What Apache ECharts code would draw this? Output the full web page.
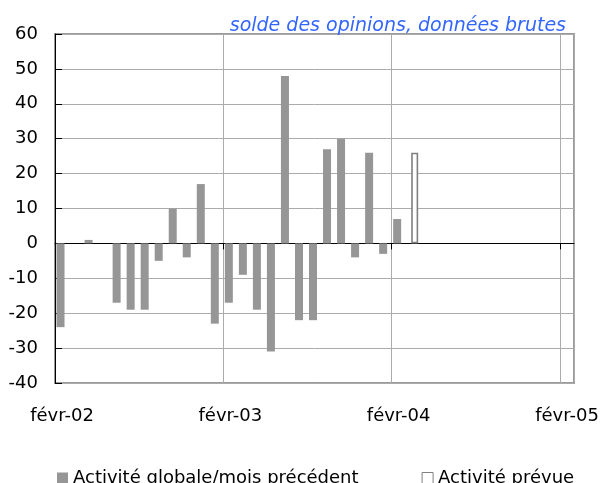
<!DOCTYPE html>
<html lang="fr">
<head>
<meta charset="utf-8">
<title>Activité globale</title>
<script src="https://cdn.jsdelivr.net/npm/echarts@6/dist/echarts.min.js"></script>
<style>
    html, body { margin: 0; padding: 0; background: #fff; }
    #chart { width: 602px; height: 483px; }
</style>
</head>
<body>
<div id="chart"></div>
<script>
    // Mois de févr-02 à févr-05
    const MONTHS = [
        'févr-02', 'mars-02', 'avr-02', 'mai-02', 'juin-02', 'juil-02', 'août-02', 'sept-02', 'oct-02', 'nov-02', 'déc-02', 'janv-03',
        'févr-03', 'mars-03', 'avr-03', 'mai-03', 'juin-03', 'juil-03', 'août-03', 'sept-03', 'oct-03', 'nov-03', 'déc-03', 'janv-04',
        'févr-04', 'mars-04', 'avr-04', 'mai-04', 'juin-04', 'juil-04', 'août-04', 'sept-04', 'oct-04', 'nov-04', 'déc-04', 'janv-05',
        'févr-05'
    ];

    // Solde des opinions, activité constatée (févr-02 .. févr-04)
    const ACTIVITE_GLOBALE = [
        -24, 0, 1, 0, -17, -19, -19, -5, 10, -4, 17, -23,
        -17, -9, -19, -31, 48, -22, -22, 27, 30, -4, 26, -3,
        7
    ];

    // Activité prévue (mars-04)
    const ACTIVITE_PREVUE = { 'mars-04': 26 };

    // Repères annuels sur l'axe du zéro (début de chaque année, en nombre de mois)
    const YEAR_TICKS = [0, 12, 24, 36];

    const Y_MIN = -40;
    const Y_MAX = 60;
    const Y_STEP = 10;

    const FONT = 'DejaVu Sans';
    const GREY_BAR = '#969696';
    const GRID_LINE = '#ababab';

    const globaleData = MONTHS.map((m, i) => (i < ACTIVITE_GLOBALE.length ? ACTIVITE_GLOBALE[i] : null));
    const prevueData = MONTHS.map(m => (m in ACTIVITE_PREVUE ? ACTIVITE_PREVUE[m] : null));

    const chart = echarts.init(document.getElementById('chart'));

    const option = {
        animation: false,
        backgroundColor: '#fff',
        title: {
            text: 'solde des opinions, données brutes',
            right: 31,
            top: 12,
            textStyle: {
                fontFamily: FONT,
                fontSize: 19,
                fontStyle: 'italic',
                fontWeight: 'normal',
                color: '#3366ff'
            }
        },
        legend: {
            left: 52,
            top: 464,
            itemWidth: 11,
            itemHeight: 11,
            itemGap: 63,
            icon: 'rect',
            textStyle: { fontFamily: FONT, fontSize: 18, color: '#000' },
            data: [
                { name: 'Activité globale/mois précédent' },
                { name: 'Activité prévue', itemStyle: { color: '#fff', borderColor: '#808080', borderWidth: 1 } }
            ]
        },
        grid: {
            left: 55,
            right: 28,
            top: 34,
            bottom: 100,
            show: true,
            borderColor: '#9a9a9a',
            borderWidth: 2
        },
        xAxis: [
            {
                // axe du bas : libellés et quadrillage annuel
                type: 'category',
                data: MONTHS,
                position: 'bottom',
                axisLine: { show: false, onZero: false },
                axisTick: { show: false },
                axisLabel: {
                    interval: 11,
                    margin: 24,
                    fontFamily: FONT,
                    fontSize: 18,
                    color: '#000'
                },
                splitLine: {
                    show: true,
                    interval: 11,
                    lineStyle: { color: GRID_LINE, width: 1 }
                }
            },
            {
                // axe sur le zéro, graduations annuelles
                type: 'value',
                min: 0,
                max: MONTHS.length,
                position: 'top',
                axisLine: { show: true, onZero: true, lineStyle: { color: '#000', width: 1 } },
                axisTick: {
                    show: true,
                    inside: true,
                    length: 6,
                    customValues: YEAR_TICKS,
                    lineStyle: { color: '#000' }
                },
                axisLabel: { show: false },
                splitLine: { show: false }
            }
        ],
        yAxis: {
            type: 'value',
            min: Y_MIN,
            max: Y_MAX,
            interval: Y_STEP,
            axisLine: { show: true, lineStyle: { color: '#000', width: 1 } },
            axisTick: { show: true, inside: true, length: 7, lineStyle: { color: '#000' } },
            axisLabel: {
                margin: 17,
                fontFamily: FONT,
                fontSize: 18,
                color: '#000'
            },
            splitLine: { show: true, lineStyle: { color: GRID_LINE, width: 1 } }
        },
        series: [
            {
                name: 'Activité globale/mois précédent',
                type: 'bar',
                xAxisIndex: 0,
                barWidth: 8,
                barGap: '-50%',
                itemStyle: { color: GREY_BAR },
                data: globaleData
            },
            {
                name: 'Activité prévue',
                type: 'bar',
                xAxisIndex: 0,
                barWidth: 7,
                barGap: '-50%',
                itemStyle: { color: '#fff', borderColor: '#808080', borderWidth: 1.6 },
                data: prevueData
            }
        ]
    };

    chart.setOption(option);
    window.addEventListener('resize', () => chart.resize());
</script>
</body>
</html>
